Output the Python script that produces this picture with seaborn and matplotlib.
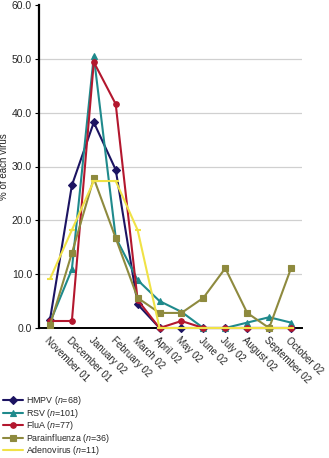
import numpy as np
import pandas as pd
import matplotlib
matplotlib.use("Agg")
import matplotlib.pyplot as plt
import seaborn as sns

months = ["November 01", "December 01", "January 02", "February 02", "March 02",
          "April 02", "May 02", "June 02", "July 02", "August 02",
          "September 02", "October 02"]
hmpv = [1.5, 26.5, 38.2, 29.4, 4.4, 0, 0, 0, 0, 0, 0, 0]
rsv = [1.0, 10.9, 50.5, 16.8, 8.9, 5.0, 3.0, 0, 0, 1.0, 2.0, 1.0]
flua = [1.3, 1.3, 49.4, 41.6, 5.2, 0, 1.3, 0, 0, 0, 0, 0]
para = [0.5, 13.9, 27.8, 16.7, 5.6, 2.8, 2.8, 5.6, 11.1, 2.8, 0, 11.1]
adeno = [9.1, 18.2, 27.3, 27.3, 18.2, 0, 0, 0, 0, 0, 0, 0]

names = ["HMPV ($n$=68)", "RSV ($n$=101)", "FluA ($n$=77)",
         "Parainfluenza ($n$=36)", "Adenovirus ($n$=11)"]
series = [hmpv, rsv, flua, para, adeno]
colors = ["#1c1462", "#1f8a8c", "#b3172e", "#8e8a3e", "#f0e246"]
markers = ["D", "^", "o", "s", "_"]

rows = []
for nm, vals in zip(names, series):
    for i, v in enumerate(vals):
        rows.append({"pos": i, "pct": v, "virus": nm})
df = pd.DataFrame(rows)

sns.set_style("white")
plt.rcParams["font.family"] = ["Liberation Sans", "DejaVu Sans"]
plt.rcParams["mathtext.fontset"] = "custom"
plt.rcParams["mathtext.it"] = "Liberation Sans:italic"
plt.rcParams["mathtext.rm"] = "Liberation Sans"

fig = plt.figure(figsize=(3.29, 4.58), dpi=100)
ax = fig.add_axes([39/329, 1-328/458, (302-39)/329, (328-5)/458])

for nm, col, mk in zip(names, colors, markers):
    sub = df[df["virus"] == nm]
    sns.lineplot(data=sub, x="pos", y="pct", ax=ax, color=col, marker=mk,
                 markersize=4 if mk != "_" else 5, markeredgecolor=col,
                 markeredgewidth=1.5 if mk == "_" else 0.8,
                 linewidth=1.5, label=nm, clip_on=False, zorder=3)

ax.set_xlim(-0.5, 11.5)
ax.set_ylim(0, 60)
ax.set_yticks(np.arange(0, 61, 10))
ax.set_yticklabels([f"{v:.1f}" for v in np.arange(0, 61, 10)], fontsize=7.5)
for y in range(10, 60, 10):
    ax.axhline(y, color="#d0d0d0", linewidth=0.9, zorder=1)

ax.set_xticks(range(12))
ax.set_xticklabels(months, rotation=-45, ha="left", va="top",
                   rotation_mode="anchor", fontsize=7)
ax.set_xticks(np.arange(-0.5, 12, 1), minor=True)
ax.tick_params(axis="x", which="major", length=0, pad=5)
ax.tick_params(axis="x", which="minor", length=3, width=0.8, color="black", direction="out")
ax.tick_params(axis="y", which="major", length=3, width=0.8, color="black",
               direction="out", pad=2, left=True)

ax.set_xlabel("")
ax.set_ylabel("% of each virus", fontsize=7)
ax.yaxis.set_label_coords(-0.115, 0.5)

for s in ["top", "right"]:
    ax.spines[s].set_visible(False)
ax.spines["left"].set_linewidth(1.6)
ax.spines["bottom"].set_linewidth(1.4)
ax.spines["left"].set_color("black")
ax.spines["bottom"].set_color("black")

handles, labels = ax.get_legend_handles_labels()
ax.get_legend().remove()
fig.legend(handles, labels, loc="upper left", bbox_to_anchor=(0.01, 1-394/458),
           frameon=False, fontsize=6.4, handlelength=2.2, handletextpad=0.3,
           handleheight=0.5, labelspacing=-0.05, borderpad=0, borderaxespad=0)

fig.savefig("out.png", dpi=100)
